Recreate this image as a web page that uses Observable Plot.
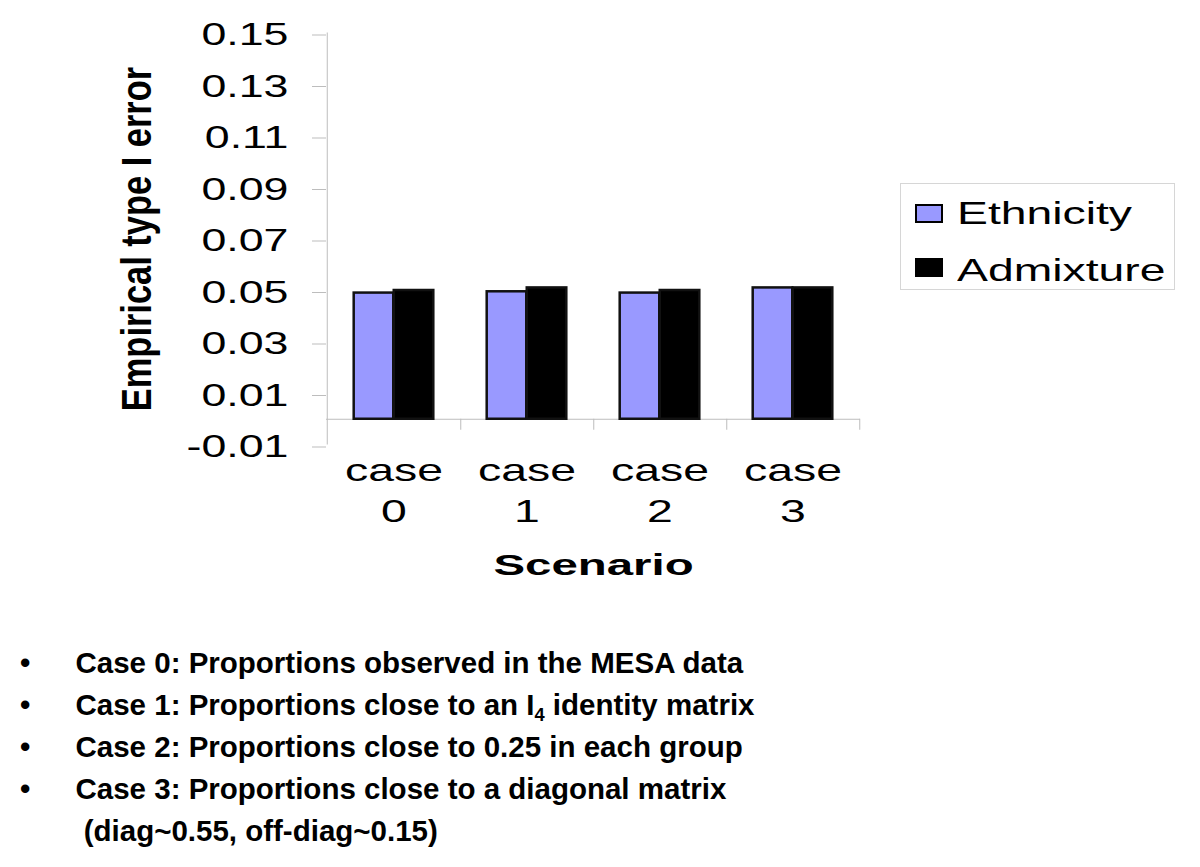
<!DOCTYPE html>
<html>
<head>
<meta charset="utf-8">
<script src="https://cdn.jsdelivr.net/npm/d3@7"></script>
<script src="https://cdn.jsdelivr.net/npm/@observablehq/plot@0.6"></script>
<style>
  html, body { margin: 0; padding: 0; background: #fff; }
  body { font-family: Arial, "Liberation Sans", sans-serif; color: #000; }
  #wrap { position: relative; width: 1200px; height: 867px; overflow: hidden; background: #fff; }
  #chart { position: absolute; left: 0; top: 0; }
  #legendBox { position: absolute; left: 900px; top: 183px; width: 275px; height: 107px;
               border: 1px solid #d6d6d6; box-sizing: border-box; }
  .sw { position: absolute; width: 28px; height: 19px; box-sizing: border-box; border: 2.5px solid #000; }
  .lab { position: absolute; font-size: 31.5px; line-height: 31.5px; white-space: nowrap;
         transform-origin: 0 50%; }
  #notes { position: absolute; left: 0; top: 642px; font-weight: bold; font-size: 29.5px; line-height: 42px; }
  .note { position: relative; height: 42px; white-space: pre; }
  .bul { position: absolute; left: 20px; }
  .txt { position: absolute; left: 75.5px; }
  .sub { font-size: 0.62em; position: relative; top: 0.32em; }
</style>
</head>
<body>
<div id="wrap">
  <div id="chart"></div>
  <div id="legendBox"></div>
  <div id="notes"></div>
</div>
<script>
// ---- data ----
const cases = ["0", "1", "2", "3"];
const series = ["Ethnicity", "Admixture"];
const ethnicity = [0.049, 0.0495, 0.049, 0.051];
const admixture = [0.050, 0.051, 0.050, 0.051];
const yTicks = [-0.01, 0.01, 0.03, 0.05, 0.07, 0.09, 0.11, 0.13, 0.15];
const colors = ["#9999ff", "#000000"];
const yTitle = "Empirical type I error";
const xTitle = "Scenario";
const caseWord = "case";
const notes = [
  ["Case 0: Proportions observed in the MESA data"],
  ["Case 1: Proportions close to an I", "4", " identity matrix"],
  ["Case 2: Proportions close to 0.25 in each group"],
  ["Case 3: Proportions close to a diagonal matrix"],
  [" (diag~0.55, off-diag~0.15)", null]
];

(function () {
const rows = cases.flatMap((c, i) => [
  {case: c, series: series[0], value: ethnicity[i]},
  {case: c, series: series[1], value: admixture[i]}
]);

// ---- layout ----
const W = 1200, H = 600;
const pL = 326, pR = 860, pT = 32.5, pB = 444.5;
const step = (pR - pL) / cases.length;
const gray = "#bdbdbd";
const font = "Arial, 'Liberation Sans', sans-serif";

const svg = Plot.plot({
  width: W, height: H,
  marginLeft: pL, marginRight: W - pR, marginTop: pT, marginBottom: H - pB,
  style: {fontFamily: font, background: "transparent", color: "#000", overflow: "visible"},
  x: {domain: cases, padding: 0, axis: null},
  y: {domain: [-0.01, 0.15], axis: null},
  color: {domain: series, range: colors},
  marks: [
    Plot.ruleX([cases[0]], {x: d => d, dx: -step / 2, stroke: gray, strokeWidth: 1}),
    Plot.ruleY([0], {stroke: gray, strokeWidth: 1}),
    Plot.ruleX(cases, {x: d => d, dx: step / 2, y1: 0, y2: 0, insetBottom: -11, stroke: gray, strokeWidth: 1}),
    Plot.axisY({
      ticks: yTicks, tickFormat: d => d.toFixed(2), tickSize: 14, tickPadding: 24,
      stroke: gray, strokeOpacity: 1, fill: "#000", fontSize: 31.5, dy: 2, label: null
    }),
    Plot.barY(rows.filter(d => d.series === series[0]), {
      x: "case", y1: 0, y2: "value", fill: "series", stroke: "#111", strokeWidth: 2.5,
      insetLeft: 0.2 * step, insetRight: 0.5 * step
    }),
    Plot.barY(rows.filter(d => d.series === series[1]), {
      x: "case", y1: 0, y2: "value", fill: "series", stroke: "#111", strokeWidth: 2.5,
      insetLeft: 0.5 * step, insetRight: 0.2 * step
    }),
    Plot.text(cases, {
      x: d => d, text: d => `${caseWord}\n${d}`, frameAnchor: "bottom", lineAnchor: "top",
      lineHeight: 1.3, dy: 6, fontSize: 32, fill: "#000", ariaLabel: () => "xlabels"
    }),
    Plot.text([xTitle], {
      text: d => d, frameAnchor: "bottom", lineAnchor: "top", dy: 108.5,
      fontSize: 30, fontWeight: "bold", fill: "#000", ariaLabel: () => "xtitle"
    }),
    Plot.text([yTitle], {
      text: d => d, frameAnchor: "left", dx: -188.7, rotate: -90, textAnchor: "middle",
      fontSize: 42, fontWeight: "bold", fill: "#000", ariaLabel: () => "ytitle"
    })
  ]
});

function stretch(name, k) {
  svg.querySelectorAll(name).forEach(t => {
    const tr = t.getAttribute("transform") || "";
    t.setAttribute("transform", `${tr} scale(${k},1)`);
  });
}
stretch('g[aria-label="y-axis tick label"] text', 1.42);
stretch('text[aria-label="xlabels"]', 1.45);
stretch('text[aria-label="xtitle"]', 1.58);
stretch('text[aria-label="ytitle"]', 0.82);

document.getElementById("chart").appendChild(svg);

// ---- legend ----
const wrap = document.getElementById("wrap");
const swTops = [203.5, 257.5];
const labTops = [197.6, 255];
series.forEach((s, i) => {
  const sw = document.createElement("div");
  sw.className = "sw";
  sw.style.left = "915px";
  sw.style.top = swTops[i] + "px";
  sw.style.background = colors[i];
  wrap.appendChild(sw);
  const lb = document.createElement("div");
  lb.className = "lab";
  lb.style.left = "957px";
  lb.style.top = labTops[i] + "px";
  lb.style.transform = "scaleX(1.47)";
  lb.textContent = s;
  wrap.appendChild(lb);
});

// ---- notes ----
const notesEl = document.getElementById("notes");
notes.forEach(n => {
  const row = document.createElement("div");
  row.className = "note";
  if (n[1] !== null) {
    const b = document.createElement("span");
    b.className = "bul";
    b.textContent = "\u2022";
    row.appendChild(b);
  }
  const t = document.createElement("span");
  t.className = "txt";
  t.appendChild(document.createTextNode(n[0]));
  if (n.length === 3) {
    const sub = document.createElement("span");
    sub.className = "sub";
    sub.textContent = n[1];
    t.appendChild(sub);
    t.appendChild(document.createTextNode(n[2]));
  }
  row.appendChild(t);
  notesEl.appendChild(row);
});
})();
</script>
</body>
</html>
